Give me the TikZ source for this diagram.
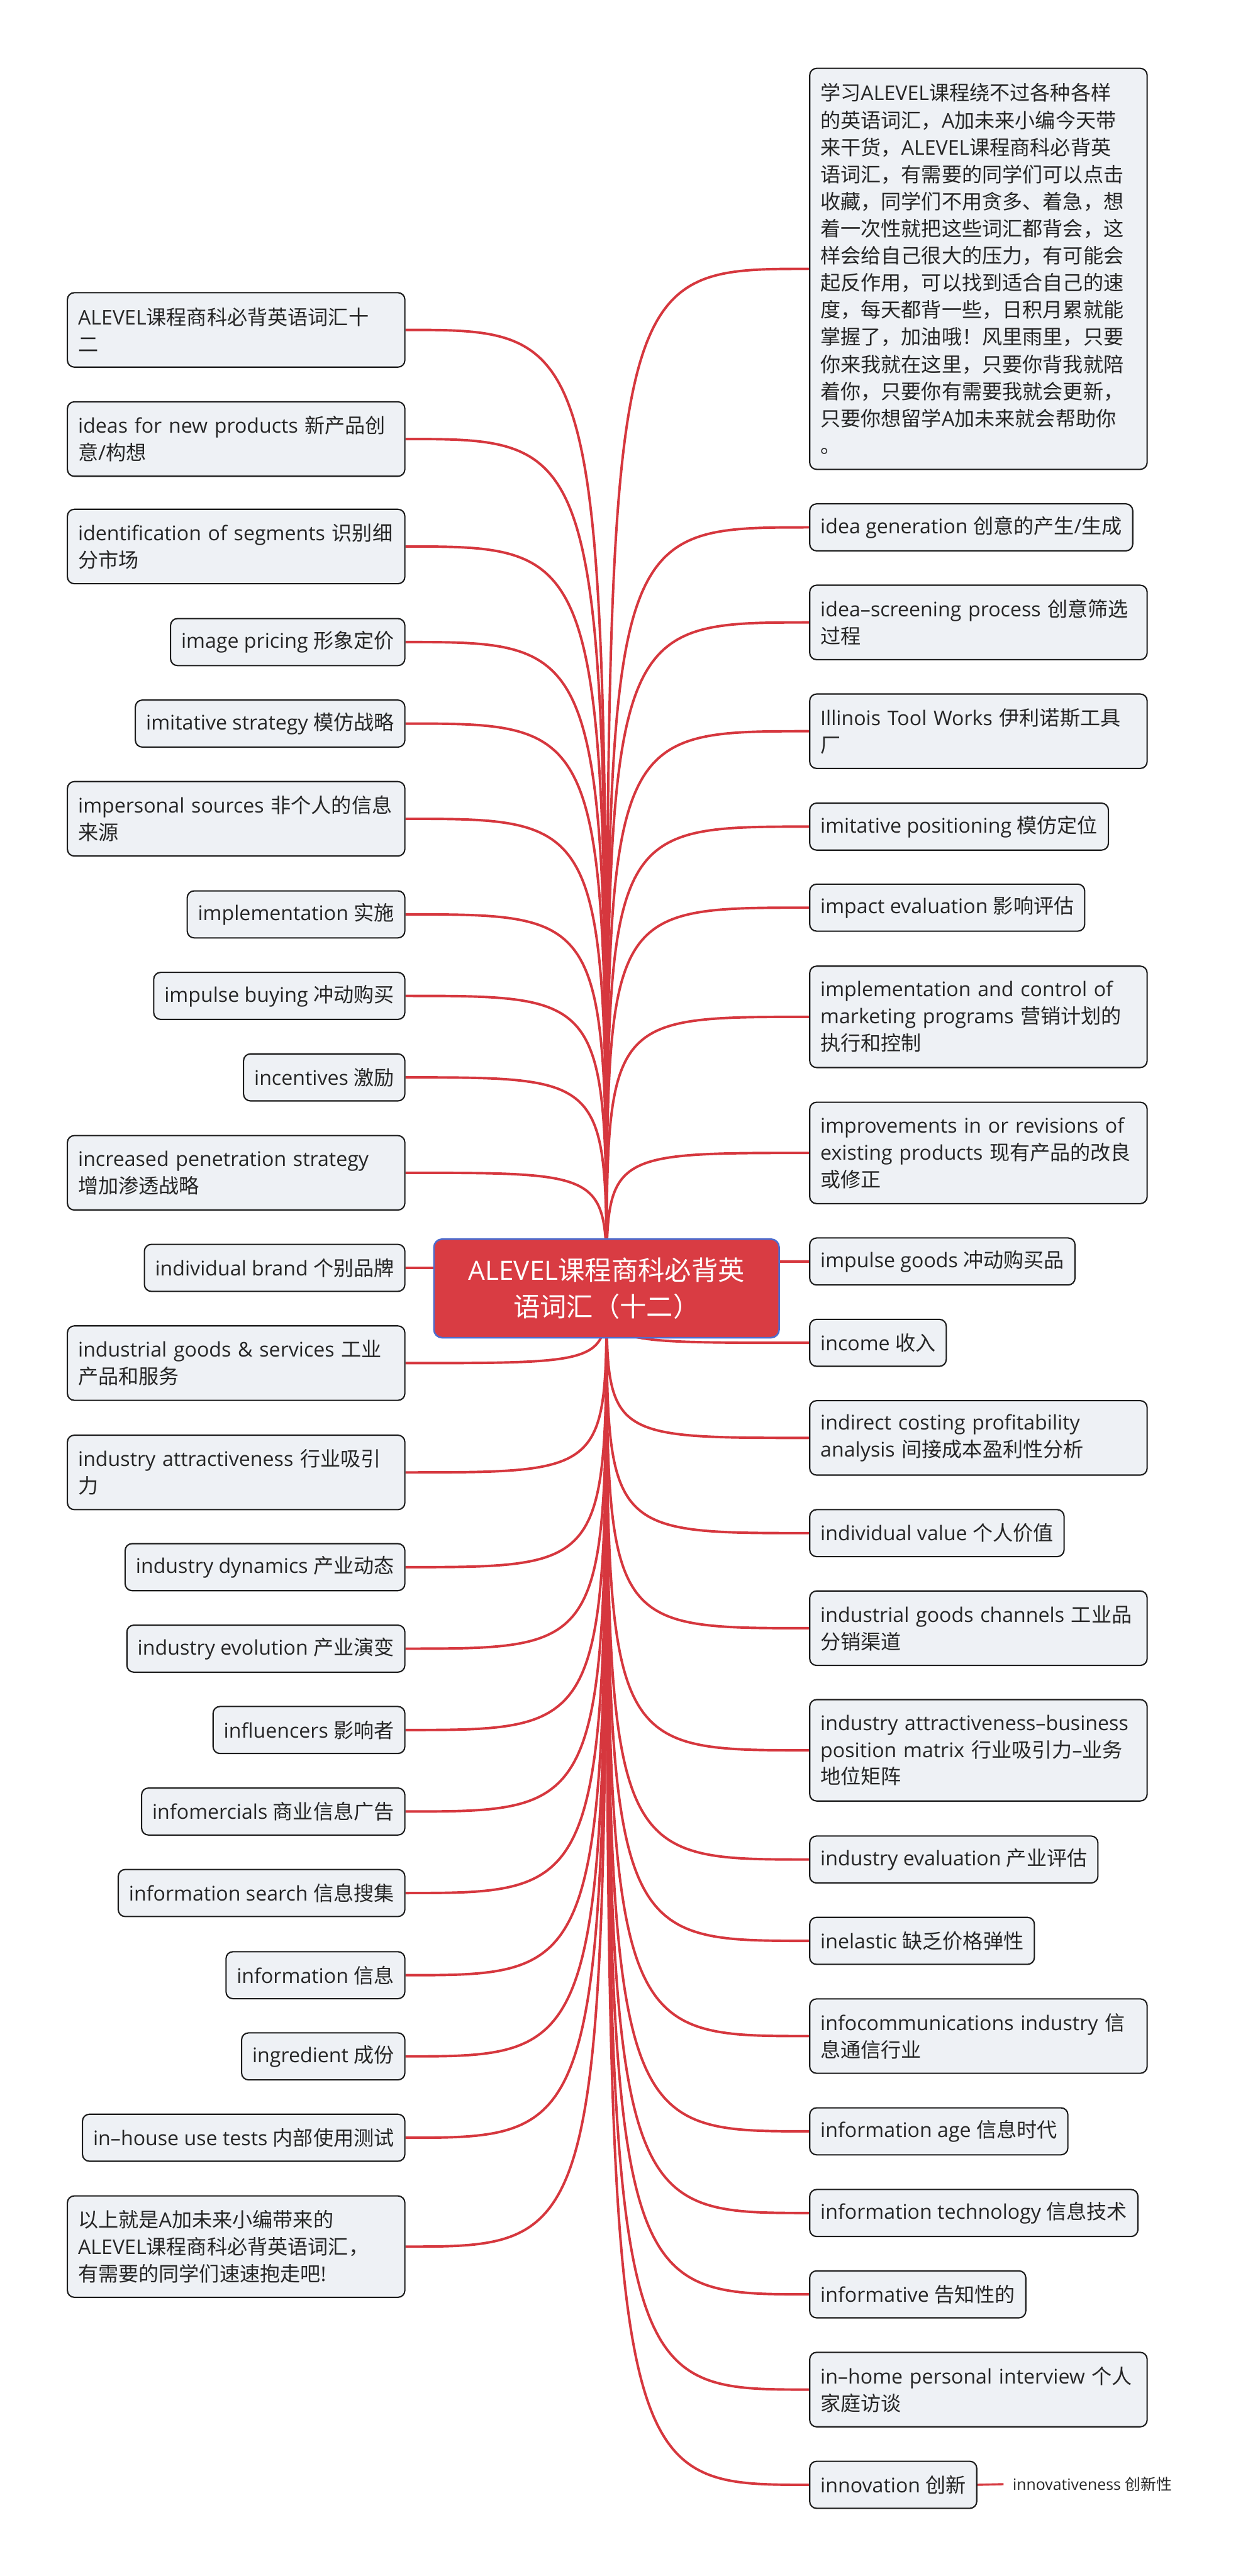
\documentclass[tikz,border=0pt]{standalone}
\usepackage{fontspec}
\setmainfont{Open Sans}
\newfontfamily\latinfont{Open Sans}
\newfontfamily\cjkfont{Noto Sans CJK SC}
\XeTeXinterchartokenstate=1
\newXeTeXintercharclass\CJKcls
\newcount\cjkcnt
\def\setcjkrange#1#2{\cjkcnt=#1\relax
  \loop\XeTeXcharclass\cjkcnt=\CJKcls\relax
  \advance\cjkcnt by 1\relax
  \ifnum\cjkcnt<#2\relax\repeat}
\setcjkrange{"3000}{"3040}
\setcjkrange{"4E00}{"A000}
\setcjkrange{"FF00}{"FFF0}
\XeTeXinterchartoks 0 \CJKcls = {\cjkfont}
\XeTeXinterchartoks 4095 \CJKcls = {\cjkfont}
\XeTeXinterchartoks \CJKcls 0 = {\latinfont}
\XeTeXinterchartoks \CJKcls 4095 = {\latinfont}
\pgfdeclarelayer{bg}
\pgfdeclarelayer{paper}
\pgfsetlayers{paper,bg,main}
\definecolor{connred}{RGB}{214,55,62}
\definecolor{rootred}{RGB}{217,60,67}
\definecolor{rootborder}{RGB}{78,108,205}
\definecolor{boxfill}{RGB}{238,241,245}
\definecolor{boxline}{RGB}{28,28,28}
\definecolor{txtcol}{RGB}{38,38,38}
\tikzset{
  leaf/.style={draw=boxline, fill=boxfill, line width=0.8pt, rounded corners=4.2pt,
    inner xsep=6.5pt, inner ysep=0pt, text=txtcol,
    font=\fontsize{12.3pt}{16.4pt}\selectfont, align=left},
  one/.style={leaf, minimum height=28.6pt},
  two/.style={leaf, text width=192.3pt, minimum height=45.3pt},
  three/.style={leaf, text width=192.3pt, minimum height=61.7pt},
  bigbox/.style={leaf, text width=192.3pt, minimum height=244pt,
    font=\fontsize{12.3pt}{16.5pt}\selectfont},
  rootbox/.style={fill=rootred, draw=rootborder, line width=1pt, rounded corners=5pt,
    minimum width=210pt, minimum height=60pt, inner sep=0pt, text=white,
    font=\fontsize{16.2pt}{22pt}\selectfont, align=center},
  childtext/.style={text=txtcol, font=\fontsize{9.5pt}{12pt}\selectfont,
    inner xsep=5.5pt, inner ysep=2pt},
  conn/.style={draw=connred, line width=1.5pt},
  lft/.style={anchor=north east},
  rgt/.style={anchor=north west}
}
\begin{document}
\begin{tikzpicture}[x=1pt, y=-1pt]
\useasboundingbox (0,0) rectangle (759,1567.5);
\begin{pgfonlayer}{paper}
\fill[white] (0,0) rectangle (759,1567.5);
\end{pgfonlayer}

% root
\node[rootbox] (root) at (369,784) {ALEVEL课程商科必背英\\语词汇（十二）};

% left column
\def\lx{246.7}
\node[two,lft]   (L1)  at (\lx,177.7)  {ALEVEL课程商科必背英语词汇十\\二};
\node[two,lft]   (L2)  at (\lx,244.1)  {ideas~for~new~products~新产品创\\意/构想};
\node[two,lft]   (L3)  at (\lx,309.5)  {identification~of~segments~识别细\\分市场};
\node[one,lft]   (L4)  at (\lx,376.0)  {image pricing 形象定价};
\node[one,lft]   (L5)  at (\lx,425.6)  {imitative strategy 模仿战略};
\node[two,lft]   (L6)  at (\lx,475.2)  {impersonal~sources~非个人的信息\\来源};
\node[one,lft]   (L7)  at (\lx,541.7)  {implementation 实施};
\node[one,lft]   (L8)  at (\lx,591.3)  {impulse buying 冲动购买};
\node[one,lft]   (L9)  at (\lx,640.9)  {incentives 激励};
\node[two,lft]   (L10) at (\lx,690.6)  {increased~penetration~strategy\\增加渗透战略};
\node[one,lft]   (L11) at (\lx,756.8)  {individual brand 个别品牌};
\node[two,lft]   (L12) at (\lx,806.4)  {industrial~goods~\&~services~工业\\产品和服务};
\node[two,lft]   (L13) at (\lx,872.9)  {industry~attractiveness~行业吸引\\力};
\node[one,lft]   (L14) at (\lx,938.9)  {industry dynamics 产业动态};
\node[one,lft]   (L15) at (\lx,988.5)  {industry evolution 产业演变};
\node[one,lft]   (L16) at (\lx,1038.0) {influencers 影响者};
\node[one,lft]   (L17) at (\lx,1087.6) {infomercials 商业信息广告};
\node[one,lft]   (L18) at (\lx,1137.2) {information search 信息搜集};
\node[one,lft]   (L19) at (\lx,1187.2) {information 信息};
\node[one,lft]   (L20) at (\lx,1236.6) {ingredient 成份};
\node[one,lft]   (L21) at (\lx,1286.1) {in–house use tests 内部使用测试};
\node[three,lft] (L22) at (\lx,1335.8) {以上就是A加未来小编带来的\\ALEVEL课程商科必背英语词汇，\\有需要的同学们速速抱走吧!};

% right column
\def\rx{492.2}
\node[bigbox,rgt] (R1) at (\rx,41.2) {学习ALEVEL课程绕不过各种各样\\的英语词汇，A加未来小编今天带\\来干货，ALEVEL课程商科必背英\\语词汇，有需要的同学们可以点击\\收藏，同学们不用贪多、着急，想\\着一次性就把这些词汇都背会，这\\样会给自己很大的压力，有可能会\\起反作用，可以找到适合自己的速\\度，每天都背一些，日积月累就能\\掌握了，加油哦！风里雨里，只要\\你来我就在这里，只要你背我就陪\\着你，只要你有需要我就会更新，\\只要你想留学A加未来就会帮助你\\。};
\node[one,rgt]   (R2)  at (\rx,306.2)  {idea generation 创意的产生/生成};
\node[two,rgt]   (R3)  at (\rx,355.7)  {idea–screening~process~创意筛选\\过程};
\node[two,rgt]   (R4)  at (\rx,421.9)  {Illinois~Tool~Works~伊利诺斯工具\\厂};
\node[one,rgt]   (R5)  at (\rx,488.3)  {imitative positioning 模仿定位};
\node[one,rgt]   (R6)  at (\rx,537.6)  {impact evaluation 影响评估};
\node[three,rgt] (R7)  at (\rx,587.5)  {implementation~and~control~of\\marketing~programs~营销计划的\\执行和控制};
\node[three,rgt] (R8)  at (\rx,670.3)  {improvements~in~or~revisions~of\\existing~products~现有产品的改良\\或修正};
\node[one,rgt]   (R9)  at (\rx,752.9)  {impulse goods 冲动购买品};
\node[one,rgt]   (R10) at (\rx,802.4)  {income 收入};
\node[two,rgt]   (R11) at (\rx,851.9)  {indirect~costing~profitability\\analysis~间接成本盈利性分析};
\node[one,rgt]   (R12) at (\rx,918.2)  {individual value 个人价值};
\node[two,rgt]   (R13) at (\rx,967.7)  {industrial~goods~channels~工业品\\分销渠道};
\node[three,rgt] (R14) at (\rx,1033.8) {industry~attractiveness–business\\position~matrix~行业吸引力–业务\\地位矩阵};
\node[one,rgt]   (R15) at (\rx,1116.8) {industry evaluation 产业评估};
\node[one,rgt]   (R16) at (\rx,1166.3) {inelastic 缺乏价格弹性};
\node[two,rgt]   (R17) at (\rx,1215.9) {infocommunications~industry~信\\息通信行业};
\node[one,rgt]   (R18) at (\rx,1282.2) {information age 信息时代};
\node[one,rgt]   (R19) at (\rx,1331.9) {information technology 信息技术};
\node[one,rgt]   (R20) at (\rx,1381.4) {informative 告知性的};
\node[two,rgt]   (R21) at (\rx,1431.0) {in–home~personal~interview~个人\\家庭访谈};
\node[one,rgt]   (R22) at (\rx,1497.3) {innovation 创新};

% child of innovation
\node[childtext, anchor=west] (C1) at (610.5,1511.6) {innovativeness 创新性};

\begin{pgfonlayer}{bg}
\foreach \n in {L1,L2,L3,L4,L5,L6,L7,L8,L9,L10,L11,L12,L13,L14,L15,L16,L17,L18,L19,L20,L21,L22}
  {\draw[conn] (root.center) .. controls (root.center |- \n.east) .. (\n.east);}
\foreach \n in {R1,R2,R3,R4,R5,R6,R7,R8,R9,R10,R11,R12,R13,R14,R15,R16,R17,R18,R19,R20,R21,R22}
  {\draw[conn] (root.center) .. controls (root.center |- \n.west) .. (\n.west);}
\draw[conn, line width=1.3pt] (R22.east) -- (C1.west);
\end{pgfonlayer}
\end{tikzpicture}
\end{document}
